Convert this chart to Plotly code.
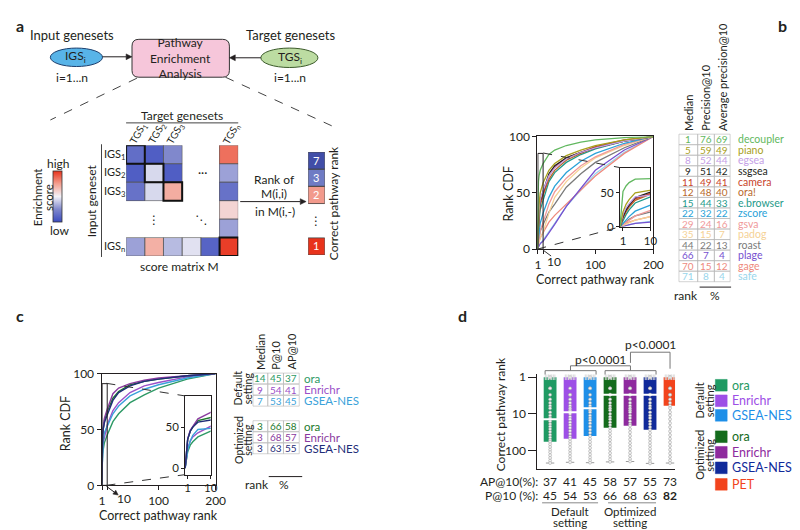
import math
import plotly.graph_objects as go

W, H = 800, 530
FONT = "Lato, 'Open Sans', 'DejaVu Sans', sans-serif"
INK = "#231f20"


def X(p):
    return p / W


def Y(p):
    return 1 - p / H


# ======================= DATA =======================
# ---- panel a : schematic score matrix M(i, j) (negative = low, positive = high) ----
igs_labels = ["IGS<sub>1</sub>", "IGS<sub>2</sub>", "IGS<sub>3</sub>", "", "", "IGS<sub>n</sub>"]
tgs_labels = ["TGS<sub>1</sub>", "TGS<sub>2</sub>", "TGS<sub>3</sub>", "", "", "TGS<sub>n</sub>"]
score_igs1 = [-0.72, -0.85, -0.50, None, None, 0.72]
score_igs2 = [-0.85, -0.12, -0.85, None, None, -0.38]
score_igs3 = [-0.68, -0.12, 0.42, None, None, -0.68]
score_gap1 = [None, None, None, None, None, 0.18]
score_gap2 = [None, None, None, None, None, -0.38]
score_igsn = [-0.38, 0.40, -0.26, -0.08, -0.80, 0.95]
diag_cells = [0, 1, 2, 5]
correct_ranks = [7, 3, 2, None, None, 1]

# ---- panel b : rank CDF of 14 methods ----
cdf_ranks = [0, 1, 2, 3, 5, 10, 20, 30, 50, 75, 100, 150, 200]
cdf_decoupler = [0, 52, 60, 65, 70, 76, 84, 88, 92, 95, 97, 99, 100]
cdf_piano = [0, 22, 33, 40, 50, 59, 70, 76, 83, 88, 92, 97, 100]
cdf_egsea = [0, 18, 28, 34, 44, 52, 65, 72, 80, 86, 90, 96, 100]
cdf_ssgsea = [0, 15, 25, 32, 43, 51, 67, 74, 81, 86, 90, 96, 100]
cdf_camera = [0, 14, 24, 31, 41, 49, 65, 73, 81, 86, 91, 97, 100]
cdf_ora = [0, 13, 22, 29, 39, 48, 62, 70, 79, 85, 90, 96, 100]
cdf_ebrowser = [0, 10, 18, 25, 35, 44, 60, 68, 77, 84, 89, 96, 100]
cdf_zscore = [0, 5, 10, 15, 23, 32, 46, 56, 68, 78, 85, 94, 100]
cdf_gsva = [0, 3, 7, 10, 16, 24, 40, 51, 63, 74, 82, 93, 100]
cdf_padog = [0, 2, 4, 6, 10, 15, 32, 46, 60, 72, 81, 92, 100]
cdf_roast = [0, 4, 8, 11, 16, 22, 33, 40, 55, 67, 77, 90, 100]
cdf_plage = [0, 1, 2, 3, 5, 7, 14, 22, 38, 54, 70, 88, 100]
cdf_gage = [0, 3, 5, 7, 10, 15, 24, 30, 40, 53, 65, 85, 100]
cdf_safe = [0, 1, 2, 3, 5, 8, 15, 23, 38, 53, 67, 86, 100]

b_methods = ["decoupler", "piano", "egsea", "ssgsea", "camera", "ora!", "e.browser",
             "zscore", "gsva", "padog", "roast", "plage", "gage", "safe"]
b_median = [1, 5, 8, 9, 11, 12, 15, 22, 29, 35, 44, 66, 70, 71]
b_p10 = [76, 59, 52, 51, 49, 48, 44, 32, 24, 15, 22, 7, 15, 8]
b_ap10 = [69, 49, 44, 42, 41, 40, 33, 22, 16, 7, 13, 4, 12, 4]
b_colors = ["#62b860", "#a8a01c", "#c4a0e6", "#231f20", "#c9452c", "#b8692c", "#1f9a8a",
            "#2aa2d8", "#f09a9a", "#f5d296", "#7a7a7a", "#7650d0", "#ee8a7e", "#98d6ec"]
b_cdfs = [cdf_decoupler, cdf_piano, cdf_egsea, cdf_ssgsea, cdf_camera, cdf_ora, cdf_ebrowser,
          cdf_zscore, cdf_gsva, cdf_padog, cdf_roast, cdf_plage, cdf_gage, cdf_safe]

# ---- panel c : default vs optimized settings ----
c_methods = ["ora", "Enrichr", "GSEA-NES", "ora", "Enrichr", "GSEA-NES"]
c_median = [14, 9, 7, 3, 3, 3]
c_p10 = [45, 54, 53, 66, 68, 63]
c_ap10 = [37, 41, 45, 58, 57, 55]
c_colors = ["#2e9a66", "#9a50c8", "#3aa2da", "#1d7a2c", "#8a3a9e", "#1f2d78"]
cdf_c_ora_def = [0, 20, 28, 32, 38, 45, 57, 64, 74, 81, 87, 95, 100]
cdf_c_enr_def = [0, 24, 33, 38, 43, 54, 67, 74, 83, 89, 92, 97, 100]
cdf_c_gsea_def = [0, 22, 33, 40, 47, 53, 64, 71, 80, 86, 90, 96, 100]
cdf_c_ora_opt = [0, 35, 45, 50, 58, 66, 78, 84, 90, 93, 95, 98, 100]
cdf_c_enr_opt = [0, 36, 46, 51, 60, 68, 82, 87, 91, 94, 96, 98, 100]
cdf_c_gsea_opt = [0, 35, 45, 50, 56, 63, 76, 83, 89, 93, 95, 98, 100]
c_cdfs = [cdf_c_ora_def, cdf_c_enr_def, cdf_c_gsea_def, cdf_c_ora_opt, cdf_c_enr_opt, cdf_c_gsea_opt]

# ---- panel d : correct pathway rank distributions ----
d_groups = ["ora", "Enrichr", "GSEA-NES", "ora", "Enrichr", "GSEA-NES", "PET"]
d_colors = ["#1f9a63", "#9d4fe6", "#1e8fe8", "#146b1c", "#8e2a9e", "#102a9a", "#f2441d"]
d_q1 = [1, 1, 1, 1, 1, 1, 1]
d_median = [14, 9, 7, 3, 3, 3, 1]
d_q3 = [58, 48, 40, 24, 21, 27, 6]
d_ap10 = [37, 41, 45, 58, 57, 55, 73]
d_p10 = [45, 54, 53, 66, 68, 63, 82]
dots_ora_def = [1, 1, 2, 2, 3, 4, 5, 6, 7, 9, 11, 13, 14, 16, 19, 22, 26, 31, 37, 44, 52, 58, 68, 80, 95, 112, 135, 160, 190, 220]
dots_enr_def = [1, 1, 2, 3, 3, 4, 5, 6, 7, 8, 9, 10, 12, 14, 17, 20, 24, 29, 35, 42, 48, 57, 68, 82, 100, 120, 145, 175, 210]
dots_gsea_def = [1, 1, 2, 2, 3, 4, 5, 6, 7, 8, 9, 11, 13, 15, 18, 22, 27, 33, 40, 48, 58, 70, 85, 105, 128, 155, 185, 215]
dots_ora_opt = [1, 1, 1, 2, 2, 3, 3, 4, 5, 6, 7, 8, 10, 12, 14, 17, 20, 24, 29, 35, 43, 52, 64, 78, 95, 118, 145, 175, 205]
dots_enr_opt = [1, 1, 1, 2, 2, 3, 3, 4, 5, 6, 7, 8, 9, 11, 13, 16, 19, 21, 26, 32, 40, 50, 62, 76, 93, 115, 140, 170, 200]
dots_gsea_opt = [1, 1, 1, 2, 2, 3, 3, 4, 5, 6, 7, 9, 11, 13, 16, 19, 23, 27, 33, 41, 50, 61, 74, 90, 110, 135, 165, 200, 225]
dots_pet = [1, 1, 1, 1, 2, 2, 3, 3, 4, 5, 6, 7, 9, 11, 14, 18, 23, 30, 38, 48, 60, 75, 95, 120, 150, 185, 220]
d_dots = [dots_ora_def, dots_enr_def, dots_gsea_def, dots_ora_opt, dots_enr_opt, dots_gsea_opt, dots_pet]

# ======================= FIGURE =======================
fig = go.Figure()
annotations = []
shapes = []


def ann(text, x, y, size=12, color=INK, xa="center", ya="middle", angle=0,
        xref="paper", yref="paper", bold=False):
    if bold:
        text = "<b>" + text + "</b>"
    annotations.append(dict(
        text=text, x=X(x) if xref == "paper" else x, y=Y(y) if yref == "paper" else y,
        xref=xref, yref=yref, showarrow=False, xanchor=xa, yanchor=ya, textangle=angle,
        font=dict(size=size, color=color, family=FONT), borderpad=0))


def seg(x0, y0, x1, y1, color=INK, width=1, dash="solid", xref="paper", yref="paper"):
    shapes.append(dict(
        type="line", xref=xref, yref=yref,
        x0=X(x0) if xref == "paper" else x0, x1=X(x1) if xref == "paper" else x1,
        y0=Y(y0) if yref == "paper" else y0, y1=Y(y1) if yref == "paper" else y1,
        line=dict(color=color, width=width, dash=dash)))


def arrow(x0, y0, x1, y1, color=INK, length=6, half=3):
    dx, dy = x1 - x0, y1 - y0
    n = math.hypot(dx, dy)
    ux, uy = dx / n, dy / n
    bx, by = x1 - ux * length, y1 - uy * length
    seg(x0, y0, bx, by, color=color)
    p1 = (bx - uy * half, by + ux * half)
    p2 = (bx + uy * half, by - ux * half)
    path = "M {},{} L {},{} L {},{} Z".format(X(x1), Y(y1), X(p1[0]), Y(p1[1]), X(p2[0]), Y(p2[1]))
    shapes.append(dict(type="path", xref="paper", yref="paper", path=path,
                       fillcolor=color, line=dict(color=color, width=0.5)))


def box(x0, y0, x1, y1, color="#b0b0b0", width=0.6, fill=None, xref="paper", yref="paper", kind="rect"):
    shapes.append(dict(
        type=kind, xref=xref, yref=yref,
        x0=X(x0) if xref == "paper" else x0, x1=X(x1) if xref == "paper" else x1,
        y0=Y(y0) if yref == "paper" else y0, y1=Y(y1) if yref == "paper" else y1,
        line=dict(color=color, width=width), fillcolor=fill if fill else "rgba(0,0,0,0)"))


# ---------------- panel b traces ----------------
for name, col, cdf in zip(b_methods[::-1], b_colors[::-1], b_cdfs[::-1]):
    fig.add_trace(go.Scatter(x=cdf_ranks, y=cdf, mode="lines", line=dict(color=col, width=1.3),
                             xaxis="x", yaxis="y", hoverinfo="skip", name=name))
for name, col, cdf in zip(b_methods[::-1], b_colors[::-1], b_cdfs[::-1]):
    fig.add_trace(go.Scatter(x=cdf_ranks, y=cdf, mode="lines", line=dict(color=col, width=1.3),
                             xaxis="x2", yaxis="y2", hoverinfo="skip", name=name))

# ---------------- panel c traces ----------------
for name, col, cdf in zip(c_methods, c_colors, c_cdfs):
    fig.add_trace(go.Scatter(x=cdf_ranks, y=cdf, mode="lines", line=dict(color=col, width=1.4),
                             xaxis="x3", yaxis="y3", hoverinfo="skip", name=name))
for name, col, cdf in zip(c_methods, c_colors, c_cdfs):
    fig.add_trace(go.Scatter(x=cdf_ranks, y=cdf, mode="lines", line=dict(color=col, width=1.4),
                             xaxis="x4", yaxis="y4", hoverinfo="skip", name=name))

# ---------------- panel d traces ----------------
d_x = list(range(len(d_groups)))
fig.add_trace(go.Bar(x=d_x, y=[q3 - q1 for q1, q3 in zip(d_q1, d_q3)], base=d_q1, width=0.64,
                     marker=dict(color=d_colors, line=dict(width=0)), xaxis="x5", yaxis="y5",
                     hoverinfo="skip"))
d_max = [max(d) for d in d_dots]
wx, wy = [], []
for i, (q3, mx) in enumerate(zip(d_q3, d_max)):
    wx += [i, i, None]
    wy += [q3, mx, None]
fig.add_trace(go.Scatter(x=wx, y=wy, mode="lines", line=dict(color="#a8a8a8", width=1),
                         xaxis="x5", yaxis="y5", hoverinfo="skip"))
fig.add_trace(go.Scatter(x=d_x, y=d_max, mode="markers",
                         marker=dict(symbol="line-ew", size=6, line=dict(color="#9a9a9a", width=1)),
                         xaxis="x5", yaxis="y5", hoverinfo="skip"))
for i, dots in enumerate(d_dots):
    fig.add_trace(go.Scatter(x=[i] * len(dots), y=dots, mode="markers",
                             marker=dict(size=3, color="#f2f2f2", line=dict(color="#a0a0a0", width=0.5)),
                             xaxis="x5", yaxis="y5", hoverinfo="skip"))
hit_offsets = [-0.24, -0.16, -0.08, 0.0, 0.08, 0.16, 0.24]
for i in d_x:
    fig.add_trace(go.Scatter(x=[i + o for o in hit_offsets], y=[d_q1[i]] * len(hit_offsets), mode="markers",
                             marker=dict(symbol="line-ns", size=4, line=dict(color="#d8d8d8", width=1)),
                             xaxis="x5", yaxis="y5", hoverinfo="skip"))
fig.add_trace(go.Scatter(x=d_x[:-1], y=d_median[:-1], mode="markers",
                         marker=dict(symbol="line-ew", size=12, line=dict(color="white", width=2)),
                         xaxis="x5", yaxis="y5", hoverinfo="skip"))

# ---------------- panel a traces ----------------
score_matrix = [score_igs1, score_igs2, score_igs3, score_gap1, score_gap2, score_igsn]
heat_scale = [[0, "#3b4cc0"], [0.25, "#8088cc"], [0.5, "#f3f2f8"], [0.75, "#f3a090"], [1, "#e8331c"]]
fig.add_trace(go.Heatmap(
    z=score_matrix, x=list(range(6)), y=list(range(6)), xaxis="x6", yaxis="y6",
    zmin=-1, zmax=1, colorscale=heat_scale, hoverinfo="skip",
    colorbar=dict(x=X(43), xanchor="left", y=Y(186), yanchor="middle", len=52 / H,
                  thickness=9, thicknessmode="pixels", showticklabels=False, ticks="",
                  outlinewidth=0.8, outlinecolor="#333", xpad=0, ypad=0)))
rank_scale = [[0, "#e8331c"], [1 / 6, "#f29a8c"], [2 / 6, "#6f7bc4"], [1, "#414ea8"]]
fig.add_trace(go.Heatmap(
    z=[[r] for r in correct_ranks], text=[["" if r is None else str(r)] for r in correct_ranks],
    texttemplate="%{text}", textfont=dict(color="white", size=11, family=FONT),
    x=[0], y=list(range(6)), xaxis="x7", yaxis="y7", zmin=1, zmax=7,
    colorscale=rank_scale, showscale=False, hoverinfo="skip"))

# ---------------- panel a drawing ----------------
ann("a", 4, 10, size=16, xa="left", bold=True)
ann("Input genesets", 62, 20, size=13)
ann("Target genesets", 284, 20, size=13)
box(40, 52, 93, 33, color="#1c3f6e", width=1, fill="#58b4e8", kind="circle")
box(254, 53, 312, 33, color="#3c5b2b", width=1, fill="#bcdca2", kind="circle")
ann("IGS<sub>i</sub>", 66, 42, size=12)
ann("TGS<sub>i</sub>", 284, 43, size=12)
ann("i=1...n", 62, 63, size=12)
ann("i=1...n", 284, 63, size=12)
bx0, by0, bx1, by1, r = 123, 24, 222, 63, 7
path = ("M {a},{b} L {c},{b} Q {d},{b} {d},{e} L {d},{f} Q {d},{g} {c},{g} L {a},{g} "
        "Q {h},{g} {h},{f} L {h},{e} Q {h},{b} {a},{b} Z").format(
    a=X(bx0 + r), b=Y(by0), c=X(bx1 - r), d=X(bx1), e=Y(by0 + r), f=Y(by1 - r), g=Y(by1), h=X(bx0))
shapes.append(dict(type="path", xref="paper", yref="paper", path=path,
                   fillcolor="#f6c6da", line=dict(color="#333", width=1)))
ann("Pathway<br>Enrichment<br>Analysis", 172, 43, size=12)
arrow(93, 42, 123, 42)
arrow(254, 43, 222, 43)
seg(128, 64, 40, 107, dash="dash", color="#444")
seg(218, 63, 326, 113, dash="dash", color="#444")

ann("Target genesets", 174, 102, size=12)
seg(117, 110, 231, 110, color="#444")
for c, lab in enumerate(tgs_labels):
    if lab:
        ann(lab, 117 + 19 * c + 12, 121, size=10, angle=-60)
for rr, lab in enumerate(igs_labels):
    if lab:
        ann(lab, 94, 133 + 19 * rr + 9.5, size=11, xa="left")
seg(92, 132, 92, 248, color="#444")
ann("Input geneset", 82, 190, size=12, angle=-90)
ann("high", 48, 152, size=12)
ann("low", 50, 221, size=12)
ann("Enrichment", 27, 187, size=11.5, angle=-90)
ann("score", 38, 187, size=11.5, angle=-90)
ann("score matrix M", 171, 258, size=12)
for rr, row in enumerate(score_matrix):
    for c, v in enumerate(row):
        if v is not None:
            box(c - 0.5, rr - 0.5, c + 0.5, rr + 0.5, color="#555", width=0.6, xref="x6", yref="y6")
for d in diag_cells:
    box(d - 0.5, d - 0.5, d + 0.5, d + 0.5, color="#111", width=2, xref="x6", yref="y6")
ann("···", 3.6, 1, size=12, xref="x6", yref="y6")
ann("⋮", 1, 3.5, size=12, xref="x6", yref="y6")
ann("⋱", 3.5, 3.5, size=12, xref="x6", yref="y6")
for rr, v in enumerate(correct_ranks):
    if v is not None:
        box(-0.5, rr - 0.5, 0.5, rr + 0.5, color="#444", width=0.8, xref="x7", yref="y7")
ann("⋮", 0, 3.5, size=12, xref="x7", yref="y7")
ann("Rank of", 268, 168, size=12)
ann("M(i,i)", 267, 183, size=12)
arrow(233, 191, 300, 191)
ann("in M(i,-)", 268, 201, size=12)
ann("Correct pathway rank", 328, 193, size=12, angle=-90)

# ---------------- panel b decorations ----------------
ann("b", 784, 10, size=16, bold=True)
ann("Rank CDF", 506, 183, size=12.5, angle=-90)
ann("Correct pathway rank", 594, 271, size=12.5)
ann("10", 552, 253, size=12)
box(1, 0, 10, 85, color=INK, width=1, xref="x", yref="y")
seg(541, 141, 619, 156, dash="dash", color="#333")
seg(535, 240, 619, 217, dash="dash", color="#333")
seg(541, 241, 549, 247, color="#333")
b_edges = [679, 698, 715, 731]
for i, name in enumerate(b_methods):
    yc = 127 + i * 10.85
    for j, v in enumerate([b_median[i], b_p10[i], b_ap10[i]]):
        box(b_edges[j], yc - 5.4, b_edges[j + 1], yc + 5.4, color="#b5b5b5", width=0.6)
        ann(str(v), (b_edges[j] + b_edges[j + 1]) / 2, yc, size=10, color=b_colors[i])
    ann(name, 738, yc, size=10.5, color=b_colors[i], xa="left")
for j, head in enumerate(["Median", "Precision@10", "Average precision@10"]):
    ann(head, (b_edges[j] + b_edges[j + 1]) / 2, 119, size=11, angle=-90, ya="bottom")
ann("rank", 686, 288, size=12)
ann("%", 716, 288, size=12)
seg(700, 279, 732, 279)

# ---------------- panel c decorations ----------------
ann("c", 4, 308, size=16, xa="left", bold=True)
ann("Rank CDF", 55, 420, size=12.5, angle=-90)
ann("Correct pathway rank", 150, 514, size=12.5)
ann("10", 115, 497, size=12)
box(1, 0, 10, 91, color=INK, width=1, xref="x3", yref="y3")
seg(97, 378, 177, 391, dash="dash", color="#333")
seg(97, 483, 177, 472, dash="dash", color="#333")
arrow(97, 484, 109, 493, length=5, half=2.5)
c_edges = [246, 261, 277, 293]
c_rows = [373, 384.5, 396, 422, 433.5, 445]
for i, name in enumerate(c_methods):
    yc = c_rows[i]
    for j, v in enumerate([c_median[i], c_p10[i], c_ap10[i]]):
        box(c_edges[j], yc - 5.5, c_edges[j + 1], yc + 5.5, color="#b5b5b5", width=0.6)
        ann(str(v), (c_edges[j] + c_edges[j + 1]) / 2, yc, size=10, color=c_colors[i])
    ann(name, 297, yc, size=11.5, color=c_colors[i], xa="left")
for j, head in enumerate(["Median", "P@10", "AP@10"]):
    ann(head, (c_edges[j] + c_edges[j + 1]) / 2, 365, size=11, angle=-90, ya="bottom")
ann("Default", 231, 383, size=10.5, angle=-90)
ann("setting", 241, 383, size=10.5, angle=-90)
ann("Optimized", 231, 436, size=10.5, angle=-90)
ann("setting", 241, 436, size=10.5, angle=-90)
ann("rank", 250, 482, size=12)
ann("%", 278, 482, size=12)
seg(262, 474, 296, 474)

# ---------------- panel d decorations ----------------
ann("d", 459, 308, size=16, bold=True)
ann("Correct pathway rank", 497, 410, size=12, angle=-90)
ann("AP@10(%):", 537, 479, size=12, xa="right")
ann("P@10 (%):", 537, 493, size=12, xa="right")
for i in d_x:
    ann(str(d_ap10[i]), i, 479, size=12, xref="x5")
    ann(str(d_p10[i]), i, 493, size=12, xref="x5", bold=(i == len(d_x) - 1))
seg(-0.4, 501, 2.4, 501, color="#888", xref="x5")
seg(2.9, 501, 5.3, 501, color="#888", xref="x5")
ann("Default", 1, 510, size=11.5, xref="x5")
ann("setting", 1, 521, size=11.5, xref="x5")
ann("Optimized", 4, 510, size=11.5, xref="x5")
ann("setting", 4, 521, size=11.5, xref="x5")
# significance brackets
for a, b in [(-0.25, 2.3), (2.75, 5.3)]:
    seg(a, 365, b, 365, color="#777", xref="x5")
    seg(a, 365, a, 369, color="#777", xref="x5")
    seg(b, 365, b, 369, color="#777", xref="x5")
seg(1.02, 365, 1.02, 360, color="#777", xref="x5")
seg(1.02, 360, 4.02, 360, color="#777", xref="x5")
seg(4.02, 360, 4.02, 365, color="#777", xref="x5")
ann("p<0.0001", 2.5, 353, size=12, xref="x5")
seg(4.02, 346, 6.0, 346, color="#777", xref="x5")
seg(4.02, 346, 4.02, 357, color="#777", xref="x5")
seg(6.0, 346, 6.0, 363, color="#777", xref="x5")
ann("p<0.0001", 5.0, 338, size=12, xref="x5")
# legend
leg_rows = [380, 396, 411, 433, 449, 465, 482]
for i, name in enumerate(d_groups):
    yc = leg_rows[i]
    box(716, yc - 6, 728, yc + 6, color=d_colors[i], width=0.5, fill=d_colors[i])
    ann(name, 732, yc, size=12.5, color=d_colors[i], xa="left")
ann("Default", 700, 396, size=11, angle=-90)
ann("setting", 710, 396, size=11, angle=-90)
ann("Optimized", 700, 452, size=11, angle=-90)
ann("setting", 710, 452, size=11, angle=-90)


# ---------------- axes ----------------
def axis(**kw):
    base = dict(showgrid=False, zeroline=False, showline=True, linecolor=INK, linewidth=1,
                ticks="outside", ticklen=4, tickwidth=1, tickcolor=INK,
                tickfont=dict(size=12, color=INK, family=FONT), fixedrange=True)
    base.update(kw)
    return base


hidden = dict(visible=False, fixedrange=True)
inset_font = dict(size=11.5, color=INK, family=FONT)

fig.update_layout(
    width=W, height=H, autosize=False, margin=dict(l=0, r=0, t=0, b=0),
    paper_bgcolor="white", plot_bgcolor="white", showlegend=False,
    font=dict(family=FONT, color=INK),
    xaxis=axis(domain=[X(535), X(653)], range=[0, 200], tickvals=[1, 10, 100, 200],
               ticktext=["1", "", "100", "200"], mirror=True, anchor="y"),
    yaxis=axis(domain=[Y(240), Y(124)], range=[0, 100], tickvals=[0, 50, 100], mirror=True, anchor="x"),
    xaxis2=axis(domain=[X(619), X(650)], range=[0, 10], tickvals=[1, 10], mirror=True, anchor="y2",
                ticklen=3, tickfont=inset_font),
    yaxis2=axis(domain=[Y(217), Y(156)], range=[0, 87], tickvals=[0, 50], mirror=True, anchor="x2",
                ticklen=3, tickfont=inset_font),
    xaxis3=axis(domain=[X(92), X(208)], range=[0, 200], tickvals=[1, 10, 100, 200],
                ticktext=["1", "", "100", "200"], mirror=True, anchor="y3"),
    yaxis3=axis(domain=[Y(483), Y(368)], range=[0, 100], tickvals=[0, 50, 100], mirror=True, anchor="x3"),
    xaxis4=axis(domain=[X(177), X(203)], range=[0, 10], tickvals=[1, 10], mirror=True, anchor="y4",
                ticklen=3, tickfont=inset_font),
    yaxis4=axis(domain=[Y(472), Y(391)], range=[-8, 88], tickvals=[0, 50], mirror=True, anchor="x4",
                ticklen=3, tickfont=inset_font),
    xaxis5=axis(domain=[X(535), X(675)], range=[-0.64, 6.25], showticklabels=False, ticks="", anchor="y5"),
    yaxis5=axis(domain=[Y(466), Y(368)], type="log", range=[2.5, -0.1], tickvals=[1, 10, 100],
                ticktext=["1", "10", "100"], ticklen=8, anchor="x5"),
    xaxis6=dict(domain=[X(117), X(231)], range=[-0.5, 5.5], anchor="y6", **hidden),
    yaxis6=dict(domain=[Y(247), Y(133)], range=[5.5, -0.5], anchor="x6", **hidden),
    xaxis7=dict(domain=[X(302), X(319)], range=[-0.5, 0.5], anchor="y7", **hidden),
    yaxis7=dict(domain=[Y(246), Y(140)], range=[5.5, -0.5], anchor="x7", **hidden),
    annotations=annotations,
    shapes=shapes,
)

fig.write_html("out.html")
